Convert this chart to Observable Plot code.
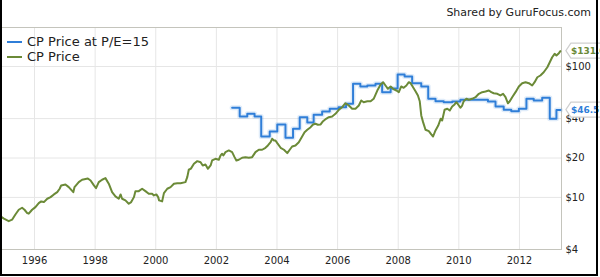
<!DOCTYPE html>
<html>
<head>
<meta charset="utf-8">
<script src="https://cdn.jsdelivr.net/npm/d3@7"></script>
<script src="https://cdn.jsdelivr.net/npm/@observablehq/plot@0.6"></script>
<style>
  html, body { margin: 0; padding: 0; background: #fff; }
  #wrap { position: relative; width: 600px; height: 277px; overflow: hidden; font-family: "DejaVu Sans", sans-serif; }
  #wrap svg.plot { position: absolute; left: 0; top: 0; }
  #shared { position: absolute; right: 9px; top: 6px; font-size: 11px; color: #222; white-space: nowrap; }
  .leg { position: absolute; left: 7px; font-size: 13px; color: #222; white-space: nowrap; display: flex; align-items: center; }
  .leg span.sw { display: inline-block; width: 15px; height: 2px; margin-right: 5px; }
  #border { position: absolute; left: 0; top: -2px; width: 598px; height: 278px; box-sizing: border-box; border: 2px solid #000; pointer-events: none; }
</style>
</head>
<body>
<div id="wrap"></div>
<script>
// ---- Data ----
const seriesNames = ["CP Price at P/E=15", "CP Price"];
const seriesColors = ["#2f7ed8", "#6b8a37"];

// CP Price (decimal year, USD)
const priceYears = [
  1994.88,1994.99,1995.15,1995.26,1995.37,1995.48,1995.59,1995.67,1995.76,1995.81,1995.92,
  1996.03,1996.14,1996.22,1996.31,1996.42,1996.53,1996.64,1996.75,1996.83,1996.88,
  1997.02,1997.13,1997.28,1997.32,1997.46,1997.57,1997.76,1997.85,1997.96,
  1998.03,1998.12,1998.23,1998.34,1998.45,1998.56,1998.67,1998.78,1998.84,1998.89,
  1999.00,1999.11,1999.19,1999.28,1999.33,1999.44,1999.55,1999.66,1999.77,1999.88,1999.94,
  2000.02,2000.08,2000.11,2000.21,2000.27,2000.38,2000.49,2000.60,2000.71,2000.82,2000.98,
  2001.04,2001.09,2001.16,2001.26,2001.37,2001.48,2001.55,2001.64,2001.72,2001.81,2001.86,2001.97,
  2002.08,2002.14,2002.19,2002.23,2002.30,2002.41,2002.52,2002.60,2002.66,2002.74,2002.85,2002.96,
  2003.07,2003.18,2003.29,2003.40,2003.51,2003.62,2003.70,2003.79,2003.84,2003.90,2003.95,
  2004.01,2004.12,2004.23,2004.34,2004.42,2004.50,2004.61,2004.72,2004.83,2004.91,
  2005.00,2005.11,2005.19,2005.27,2005.35,2005.44,2005.52,2005.62,2005.71,2005.82,2005.93,
  2006.04,2006.15,2006.26,2006.37,2006.48,2006.59,2006.70,2006.78,2006.86,2006.98,
  2007.09,2007.19,2007.31,2007.42,2007.50,2007.58,2007.66,2007.75,2007.83,2007.94,
  2008.02,2008.10,2008.18,2008.27,2008.35,2008.41,2008.49,2008.57,2008.65,2008.71,2008.76,2008.82,2008.90,
  2009.01,2009.09,2009.15,2009.23,2009.32,2009.40,2009.45,2009.53,2009.62,2009.70,2009.78,2009.86,2009.92,
  2010.00,2010.05,2010.11,2010.16,2010.25,2010.33,2010.44,2010.55,2010.66,2010.77,2010.88,2010.99,
  2011.07,2011.15,2011.27,2011.37,2011.46,2011.54,2011.62,2011.68,2011.76,2011.87,2011.98,
  2012.09,2012.20,2012.31,2012.42,2012.50,2012.59,2012.69,2012.80,2012.92,
  2013.00,2013.08,2013.16,2013.22,2013.30,2013.35
];
const priceValues = [
  7.16,6.88,6.59,6.76,7.41,8.05,8.34,8.05,7.59,7.51,8.05,
  8.43,9.05,9.32,9.21,9.77,10.05,10.54,10.97,11.65,12.35,
  12.56,11.99,10.97,11.99,13.09,13.65,13.96,13.48,12.35,
  11.78,13.09,13.65,14.04,12.72,10.97,10.18,9.77,10.54,9.77,
  9.49,8.95,9.21,10.05,11.17,11.17,11.65,11.17,10.67,10.67,10.36,
  10.54,10.05,9.49,9.32,10.79,11.65,11.99,12.72,12.85,12.85,13.09,
  14.29,16.27,16.6,18.08,18.93,18.59,17.55,17.86,16.56,17.55,19.16,19.73,
  19.40,20.93,21.56,20.93,22.18,22.84,22.18,20.31,19.16,19.40,20.10,20.31,
  20.10,20.31,22.18,23.13,23.13,23.95,24.94,26.42,28.05,27.24,27.24,
  25.99,23.95,23.13,21.79,23.13,24.50,24.94,26.42,29.22,31.51,
  32.86,34.41,36.09,36.54,35.90,36.09,38.22,39.88,41.03,41.52,43.51,
  46.68,48.87,52.43,50.35,47.55,47.55,50.35,54.99,53.37,54.29,
  54.3,56.68,65.55,72.9,75.9,71.6,67.6,70.4,67.6,65.6,
  63.7,70.4,68.8,71.6,75.9,74.6,69.5,64.8,60.1,54.3,42.3,37.6,32.86,
  32.1,30.3,29.2,32.5,35.4,39.9,38.7,46.7,47.55,46.1,49.5,51.3,53.4,
  50.35,48.4,50.35,54.3,56.7,55.7,56.7,58.3,61.9,63.7,64.4,65.6,
  63.7,62.5,61.9,60.1,61.9,58.3,52.4,54.3,58.3,63.7,70.4,
  74.6,75.9,74.6,71.6,75.9,82.8,85.4,90.4,98.8,
  107.9,117.8,125.0,121.3,126.4,131.0
];

// CP Price at P/E=15 (step starts, decimal year, USD)
const peYears = [
  2002.52,2002.77,2003.02,2003.26,2003.48,2003.76,2004.01,2004.28,2004.53,2004.75,
  2005.00,2005.21,2005.49,2005.74,2006.03,2006.28,2006.51,2006.75,2006.98,
  2007.25,2007.47,2007.75,2007.98,2008.21,2008.46,2008.76,2008.99,
  2009.23,2009.50,2009.78,2010.05,2010.96,2011.21,2011.48,2011.73,2011.98,
  2012.23,2012.47,2012.75,2013.00,2013.22,2013.35
];
const peValues = [
  48.4,41.5,43.5,41.5,29.2,31.9,36.1,28.6,33.5,41.0,
  37.4,42.8,45.3,47.55,48.9,51.9,73.8,70.4,71.6,
  73.8,63.7,67.9,86.9,83.9,74.6,70.4,56.7,
  54.3,53.4,54.1,55.7,54.1,49.5,46.7,45.6,47.55,
  56.7,55.0,57.7,39.9,46.5,46.5
];

const xTicks = [1996, 1998, 2000, 2002, 2004, 2006, 2008, 2010, 2012];
const yTicks = [4, 10, 20, 40, 100];
const sharedText = "Shared by GuruFocus.com";

// ---- Build ----
const price = priceYears.map((x, i) => ({x, y: priceValues[i]}));
const pe = peYears.map((x, i) => ({x, y: peValues[i]}));

const chart = Plot.plot({
  width: 600,
  height: 277,
  marginLeft: 1,
  marginRight: 39,
  marginTop: 27,
  marginBottom: 28,
  x: {domain: [1994.911, 2013.387]},
  y: {type: "log", domain: [4, 198.7]},
  style: {fontFamily: "DejaVu Sans, sans-serif", fontSize: "10px", color: "#222", background: "transparent"},
  marks: [
    Plot.gridX(xTicks, {stroke: "#e6e6e6", strokeOpacity: 1}),
    Plot.gridY(yTicks.filter(d => d > 4), {stroke: "#e6e6e6", strokeOpacity: 1}),
    Plot.frame({stroke: "#c4c4bc"}),
    Plot.axisX({ticks: xTicks, tickSize: 0, tickPadding: 7, tickFormat: d => String(d), label: null}),
    Plot.axisY({anchor: "right", ticks: yTicks, tickSize: 0, tickPadding: 4, tickFormat: d => "$" + d, label: null}),
    Plot.line(pe, {x: "x", y: "y", curve: "step-after", stroke: seriesColors[0], strokeWidth: 5, strokeOpacity: 0.15}),
    Plot.line(pe, {x: "x", y: "y", curve: "step-after", stroke: seriesColors[0], strokeWidth: 2}),
    Plot.line(price, {x: "x", y: "y", stroke: seriesColors[1], strokeWidth: 2})
  ]
});
chart.classList.add("plot");
const wrap = document.getElementById("wrap");
wrap.appendChild(chart);

// value tags at the last points
const xs = chart.scale("x"), ys = chart.scale("y");
const svg = d3.select(chart);
function tag(series, color) {
  const last = series[series.length - 1];
  const px = xs.apply(last.x) + 6;
  const py = ys.apply(last.y);
  const g = svg.append("g").attr("text-anchor", "start");
  g.append("path")
    .attr("d", `M${px},${py} L${px + 5},${py - 7.5} H${px + 80} V${py + 7.5} H${px + 5} Z`)
    .attr("fill", "#fff").attr("stroke", "#cfcfcf").attr("stroke-width", 1.2).attr("stroke-linejoin", "round");
  g.append("text")
    .attr("x", px + 5).attr("y", py).attr("dy", "0.35em")
    .attr("text-anchor", "start")
    .attr("fill", color).attr("font-weight", "bold").attr("font-size", 9)
    .text("$" + last.y.toFixed(1));
}
tag(price, seriesColors[1]);
tag(pe, seriesColors[0]);

// title-ish text, legend, outer border
const shared = document.createElement("div");
shared.id = "shared"; shared.textContent = sharedText;
wrap.appendChild(shared);
seriesNames.forEach((name, i) => {
  const d = document.createElement("div");
  d.className = "leg";
  d.style.top = (34 + i * 15) + "px";
  d.innerHTML = `<span class="sw" style="background:${seriesColors[i]}"></span>`;
  d.appendChild(document.createTextNode(name));
  wrap.appendChild(d);
});
const border = document.createElement("div");
border.id = "border";
wrap.appendChild(border);
</script>
</body>
</html>
